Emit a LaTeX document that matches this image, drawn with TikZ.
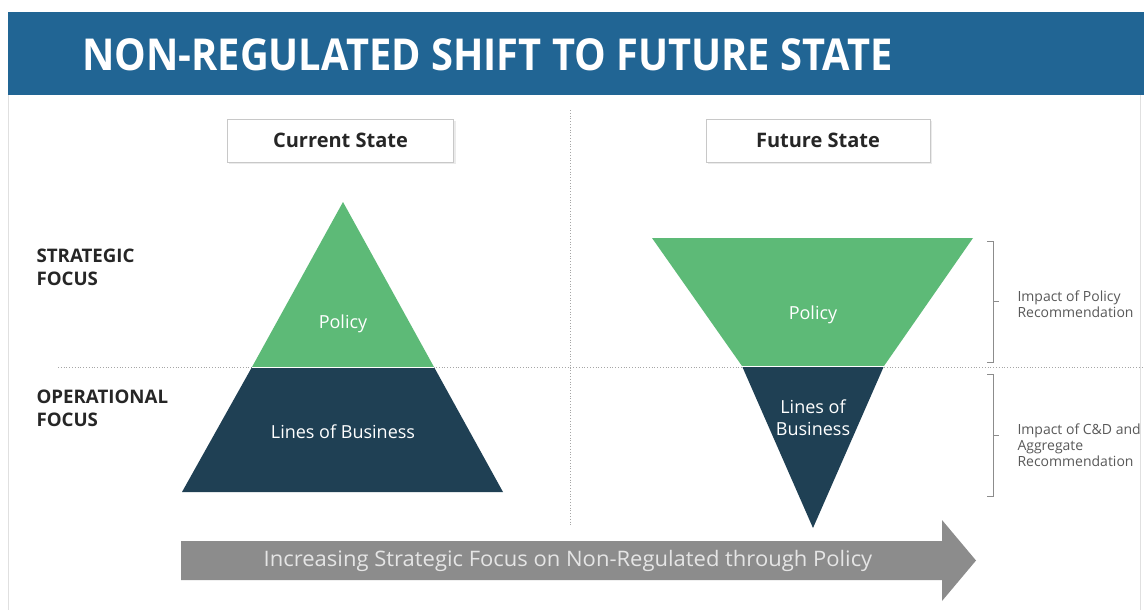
\documentclass[tikz,border=0pt]{standalone}
\usepackage{fontspec}
\setmainfont{Open Sans}
\usetikzlibrary{shapes.arrows}
\definecolor{titleblue}{HTML}{216594}
\definecolor{pgreen}{HTML}{5DBA77}
\definecolor{pdark}{HTML}{1F4054}
\definecolor{agray}{HTML}{8C8C8C}
\definecolor{lgray}{HTML}{C8C8C8}
\tikzset{
  statebox/.style={draw=lgray, fill=white, minimum width=226pt, minimum height=43pt, font=\fontsize{20}{24}\selectfont\bfseries, text=black!85},
  focus/.style={anchor=north west, align=left, font=\fontsize{18.7}{23}\selectfont\bfseries, text=black!85},
  intext/.style={text=white, align=center, font=\fontsize{18}{22}\selectfont},
  note/.style={anchor=west, align=left, text=black!65, font=\fontsize{14}{15.8}\selectfont},
  brk/.style={draw=black!45, line width=0.8pt},
  dots/.style={draw=black!35, dotted, line width=0.8pt}
}
\begin{document}
\begin{tikzpicture}[x=1pt,y=-1pt]
\useasboundingbox (0,0) rectangle (1144,610);
\fill[white] (0,0) rectangle (1144,610);
% frame lines
\draw[black!12] (8,95) -- (8,610);
\draw[black!12] (1140,95) -- (1140,610);
% title bar
\fill[titleblue] (8,12) rectangle (1144,95);
\node[anchor=west, text=white, font=\fontsize{44}{50}\selectfont\bfseries, inner sep=0pt] (title) at (82,55) {\scalebox{0.905}[1]{NON-REGULATED SHIFT TO FUTURE STATE}};
% dividers
\draw[dots] (570,110) -- (570,525);
\draw[dots] (58,367) -- (1144,367);
% state boxes
\fill[black!8] (229,121) rectangle (456,164);
\node[statebox] (cur) at (340.5,140.5) {Current State};
\fill[black!8] (708,121) rectangle (932,164);
\node[statebox, minimum width=224pt] (fut) at (818,140.5) {Future State};
% left pyramid
\fill[pgreen] (343,202) -- (434,367) -- (252,367) -- cycle;
\fill[pdark] (252,367) -- (434,367) -- (503,492) -- (182,492) -- cycle;
\draw[white, line width=1pt] (252,367) -- (434,367);
\node[intext] (lp) at (343,324) {Policy};
\node[intext] (llob) at (343,432) {Lines of Business};
% right inverted pyramid
\fill[pgreen] (652,238) -- (973,238) -- (884,366) -- (742,366) -- cycle;
\fill[pdark] (742,366) -- (884,366) -- (813,528) -- cycle;
\draw[white, line width=1pt] (742,366) -- (884,366);
\node[intext] (rp) at (813,315) {Policy};
\node[intext] (rlob) at (813,418) {Lines of\\Business};
% focus labels
\node[focus] (sf) at (33,245) {STRATEGIC\\FOCUS};
\node[focus] (of) at (33,386) {OPERATIONAL\\FOCUS};
% brackets
\draw[brk] (987,241) -- (993,241) -- (993,362) -- (987,362);
\draw[brk] (993,301) -- (999,301);
\draw[brk] (987,374) -- (993,374) -- (993,496) -- (987,496);
\draw[brk] (993,435) -- (999,435);
\node[note] (n1) at (1014,304) {Impact of Policy\\Recommendation};
\node[note] (n2) at (1014,445) {Impact of C\&D and\\Aggregate\\Recommendation};
% arrow
\fill[agray] (181,541) -- (942,541) -- (942,520) -- (976,560.5) -- (942,601) -- (942,580) -- (181,580) -- cycle;
\node[text=white!90!black, font=\fontsize{22}{24}\selectfont] (arrowtext) at (568,560.5) {\scalebox{1.0}[0.97]{Increasing Strategic Focus on Non-Regulated through Policy}};
\end{tikzpicture}
\end{document}
